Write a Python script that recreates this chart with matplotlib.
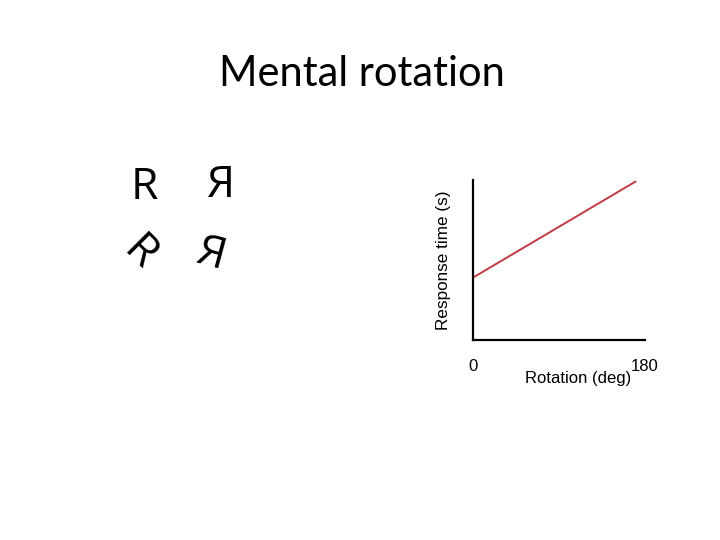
import matplotlib.pyplot as plt

# Line endpoints (y axis has no scale, so arbitrary units)
rotation_deg = [0, 170]
response_time = [0.39, 0.99]
x_ticks = [0, 180]
x_tick_labels = ["0", "180"]

# Stimulus letters: (text, x px, y px, rotation)
letters = ["R", "Я", "R", "Я"]
letter_x = [144, 220, 139, 211]
letter_y = [188, 186, 254, 255]
letter_rot = [0, 0, -45, -15]

fig = plt.figure(figsize=(7.2, 5.4), dpi=100)
W, H = 720, 540

fig.text(362 / W, 1 - 86 / H, "Mental rotation", ha="center", va="baseline",
         fontsize=30, family=["Lato", "DejaVu Sans"])

for s, x, y, r in zip(letters, letter_x, letter_y, letter_rot):
    fig.text(x / W, 1 - y / H, s, ha="center", va="center", rotation=r,
             fontsize=32, family=["Open Sans", "DejaVu Sans"])

ax = fig.add_axes([473 / W, 1 - 340 / H, 172 / W, 160 / H])
ax.plot(rotation_deg, response_time, color="#bf3a44", lw=1.4)
ax.set_xlim(0, 180)
ax.set_ylim(0, 1)
ax.spines["top"].set_visible(False)
ax.spines["right"].set_visible(False)
for side in ["left", "bottom"]:
    ax.spines[side].set_linewidth(1.6)
ax.set_xticks(x_ticks)
ax.set_xticklabels(x_tick_labels, family="Liberation Sans", fontsize=12)
ax.set_yticks([])
ax.tick_params(axis="x", length=0, pad=14)

ax.set_xlabel("Rotation (deg)", family="Liberation Sans", fontsize=12, va="center")
ax.xaxis.set_label_coords(0.61, -0.24)
ax.set_ylabel("Response time (s)", family="Liberation Sans", fontsize=12.3, va="center")
ax.yaxis.set_label_coords(-0.174, 0.5)

fig.savefig("out.png", dpi=100)
